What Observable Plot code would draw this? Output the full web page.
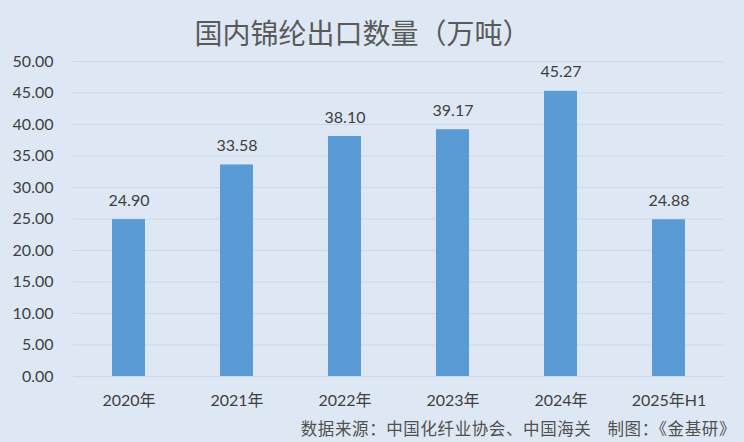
<!DOCTYPE html>
<html>
<head>
<meta charset="utf-8">
<script src="https://cdn.jsdelivr.net/npm/d3@7"></script>
<script src="https://cdn.jsdelivr.net/npm/@observablehq/plot@0.6"></script>
<style>
  html, body { margin: 0; padding: 0; background: #DEE8F4; }
  #wrap { position: relative; width: 744px; height: 442px; background: #DEE8F4; overflow: hidden;
          font-family: "Lato", "Noto Sans CJK SC", sans-serif; }
  #title { position: absolute; left: 0; width: 725px; top: 11px; text-align: center;
           font-family: "Noto Sans CJK SC", sans-serif; font-size: 28px; color: #595959; line-height: 42px; }
  #chart { position: absolute; left: 0; top: 44px; }
  #caption { position: absolute; right: 8px; top: 417px; font-family: "Noto Sans CJK SC", sans-serif;
             font-size: 16.5px; color: #505050; line-height: 22px; white-space: pre; letter-spacing: 0.6px; }
  #caption .maker { margin-left: 16px; }
</style>
</head>
<body>
<div id="wrap">
  <div id="title">国内锦纶出口数量（万吨）</div>
  <div id="chart"></div>
  <div id="caption"><span>数据来源：中国化纤业协会、中国海关</span><span class="maker">制图：《金基研》</span></div>
</div>
<script>
const categories = ["2020年", "2021年", "2022年", "2023年", "2024年", "2025年H1"];
const values = [24.90, 33.58, 38.10, 39.17, 45.27, 24.88];
const yTicks = [0, 5, 10, 15, 20, 25, 30, 35, 40, 45, 50];

const data = categories.map((c, i) => ({category: c, value: values[i]}));

const chart = Plot.plot({
  width: 744,
  height: 372,
  marginLeft: 73,
  marginRight: 21,
  marginTop: 17,
  marginBottom: 40,
  style: {background: "transparent", fontFamily: "Lato, 'Noto Sans CJK SC', sans-serif", fontSize: "16px", color: "#595959"},
  x: {domain: categories, paddingInner: 0.695, paddingOuter: 0.3475, label: null},
  y: {domain: [0, 50], label: null},
  marks: [
    Plot.ruleY(yTicks, {stroke: "#CBD7E5", strokeWidth: 1}),
    Plot.barY(data, {x: "category", y: "value", fill: "#5B9BD5"}),
    Plot.text(data, {x: "category", y: "value", text: d => d.value.toFixed(2), dy: -19, fill: "#404040", fontSize: 16}),
    Plot.axisY(yTicks, {tickSize: 0, tickPadding: 20, tickFormat: d => d.toFixed(2), fill: "#404040", fontSize: 16, label: null}),
    Plot.axisX({tickSize: 0, tickPadding: 18, fill: "#404040", fontSize: 16, label: null})
  ]
});
document.getElementById("chart").appendChild(chart);
</script>
</body>
</html>
